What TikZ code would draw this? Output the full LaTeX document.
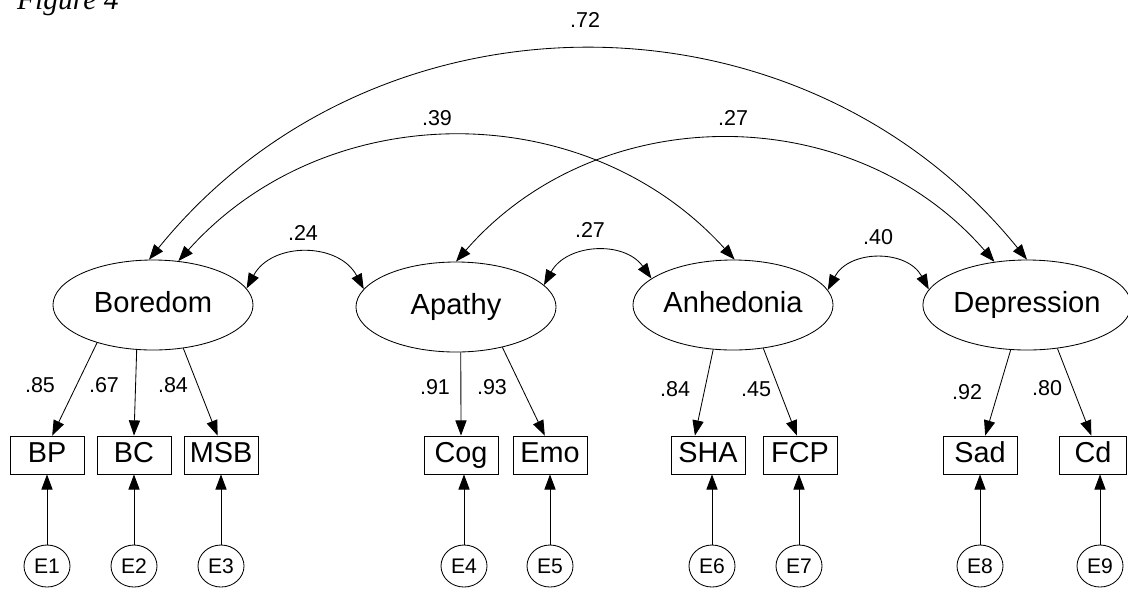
\documentclass[tikz,border=0pt]{standalone}
\usepackage{fontspec}
\setmainfont{Liberation Sans}
\newfontfamily\figfont{Liberation Serif}
\usetikzlibrary{arrows.meta,shapes.geometric}

\begin{document}
\begin{tikzpicture}[x=0.025cm,y=-0.025cm,line width=0.6pt,
    latente/.style={draw,ellipse,minimum width=5cm,minimum height=2.25cm,inner sep=0pt,
        text height=14.8pt,text depth=4.3pt,font=\fontsize{20.7}{24}\selectfont},
    caja/.style={draw,rectangle,minimum width=1.85cm,minimum height=0.95cm,inner sep=0pt,
        text height=14.7pt,text depth=4.3pt,font=\fontsize{20.5}{24}\selectfont},
    err/.style={draw,ellipse,minimum width=1.15cm,minimum height=1.05cm,inner sep=0pt,font=\fontsize{15}{18}\selectfont},
    peso/.style={font=\fontsize{15.3}{18}\selectfont},
    flecha/.style={-{Triangle[length=0.38cm,width=0.28cm]}},
    doble/.style={{Triangle[length=0.38cm,width=0.28cm]}-{Triangle[length=0.38cm,width=0.28cm]}}]

    \useasboundingbox (0,0) rectangle (1128,588);

    % Titulo
    \node[anchor=base west,font={\figfont\itshape\fontsize{21}{24}\selectfont}] (titulo) at (12,9) {Figure 4};

    % Variables latentes
    \node[latente] (bor) at (153,305) {Boredom};
    \node[latente] (apa) at (456,307) {Apathy};
    \node[latente] (anh) at (733,305) {Anhedonia};
    \node[latente] (dep) at (1027,305) {Depression};

    % Indicadores
    \foreach \n/\t/\x in {bp/BP/47, bc/BC/134, msb/MSB/221, cog/Cog/461, emo/Emo/550,
        sha/SHA/708, fcp/FCP/800, sad/Sad/980}
    \node[caja] (\n) at (\x,455) {\t};
    \node[caja,minimum width=1.68cm] (cd) at (1093,455) {Cd};

    % Errores
    \foreach \i/\x/\n in {1/47/bp, 2/134/bc, 3/221/msb, 4/464/cog, 5/550/emo,
        6/712/sha, 7/799/fcp, 8/980/sad, 9/1100/cd}{
        \node[err] (e\i) at (\x,566) {E\i};
        \draw[flecha] (e\i) -- (e\i |- \n.south);
    }

    % Cargas factoriales
    \foreach \a/\b/\v/\x/\y [count=\i] in {
        bor.214/bp.75/.85/40/385, bor.250/bc.north/.67/104/385, bor.305/msb.100/.84/173/385,
        apa.276/cog.north/.91/435/387, apa.319/emo.105/.93/492/387,
        anh.246/sha.124/.84/675/389, anh.305/fcp.99/.45/756/389,
        dep.250/sad.75/.92/967/392, dep.305/cd.95/.80/1047/388
    }{
        \draw[flecha] (\a) -- (\b);
        \node[peso] (w\i) at (\x,\y) {\v};
    }

    % Covarianzas
    \draw[doble] (bor.10) to[bend left=62,looseness=1.16] (apa.169);
    \draw[doble] (apa.14) to[bend left=58,looseness=1.12] (anh.162);
    \draw[doble] (anh.9) to[bend left=62,looseness=1.16] (dep.171);
    \draw[doble] (bor.60) to[bend left=48,looseness=1.02] (anh.88);
    \draw[doble] (apa.90) to[bend left=49,looseness=1.03] (dep.127);
    \draw[doble] (bor.95) to[bend left=51,looseness=1.05] (dep.90);

    \node[peso] (c1) at (303,233) {.24};
    \node[peso] (c2) at (590,230) {.27};
    \node[peso] (c3) at (878,237) {.40};
    \node[peso] (c4) at (437,118) {.39};
    \node[peso] (c5) at (733,118) {.27};
    \node[peso] (c6) at (585,20) {.72};

\end{tikzpicture}
\end{document}
